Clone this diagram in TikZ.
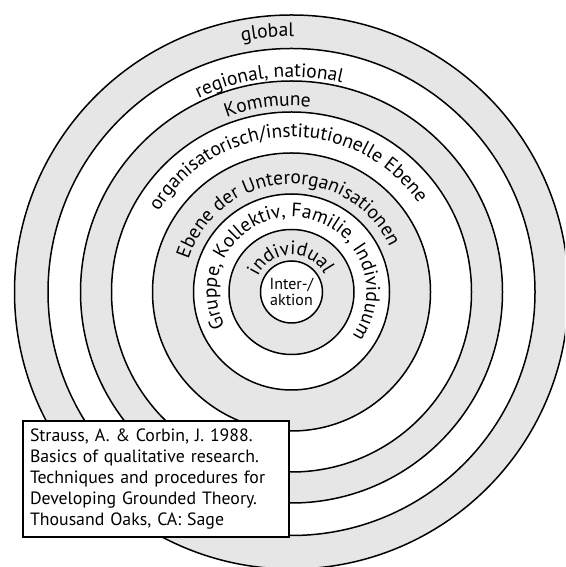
\documentclass[tikz,border=0pt]{standalone}
\usepackage{fontspec}
\setmainfont{PT Sans}
\usepackage{tikz}
\usetikzlibrary{decorations.text}
\definecolor{ringgray}{HTML}{E6E6E6}
\newcommand{\ringfont}{\fontsize{19.5}{19.5}\selectfont}
\newcommand{\reffont}{\fontsize{17.8}{20.8}\selectfont}
\tikzset{
	ring/.style={line width=1.5pt, draw=black},
	refbox/.style={draw, line width=2pt, fill=white, align=left, text width=252pt,
		inner sep=6pt, minimum width=266pt, minimum height=116pt, anchor=north west},
	ringtext/.style={decorate, decoration={text along path, text align=center, text={#1}}}
}

\begin{document}
\begin{tikzpicture}[x=1pt, y=1pt]
	\clip (0,0) rectangle (565,567);
	\coordinate (C) at (291.5,275);

	% rings, outside in
	\foreach \r/\c in {277/ringgray, 243.5/white, 211/ringgray, 180/white, 139/ringgray, 98/white, 62.5/ringgray, 31/white}
		\draw[ring, fill=\c] (C) circle[radius=\r];

	% labels along the rings
	\path[ringtext={|\ringfont|global}] (C) ++(175.3:255.5) arc[start angle=175.3, end angle=15.3, radius=255.5];
	\path[ringtext={|\ringfont|regional, national}] (C) ++(176:215) arc[start angle=176, end angle=16, radius=215];
	\path[ringtext={|\ringfont|Kommune}] (C) ++(177.3:186) arc[start angle=177.3, end angle=17.3, radius=186];
	\path[ringtext={|\ringfont|organisatorisch/institutionelle Ebene}] (C) ++(171.9:155) arc[start angle=171.9, end angle=11.9, radius=155];
	\path[ringtext={|\ringfont|Ebene der Unterorganisationen}] (C) ++(178.5:108) arc[start angle=178.5, end angle=8.5, radius=108];
	\path[ringtext={|\ringfont|Gruppe, Kollektiv, Familie, Individuum}] (C) ++(255.8:75) arc[start angle=255.8, end angle=-84.2, radius=75];
	\path[ringtext={|\ringfont|individual}] (C) ++(171.5:37) arc[start angle=171.5, end angle=11.5, radius=37];

	% centre
	\node[align=center, font=\fontsize{16}{15.6}\selectfont] (inter) at (C) {Inter-/\\aktion};

	% source
	\node[refbox, font=\reffont] (quelle) at (22,147) {Strauss, A. \& Corbin, J. 1988.\\Basics of qualitative research.\\Techniques and procedures for\\Developing Grounded Theory.\\Thousand Oaks, CA: Sage};
\end{tikzpicture}
\end{document}
